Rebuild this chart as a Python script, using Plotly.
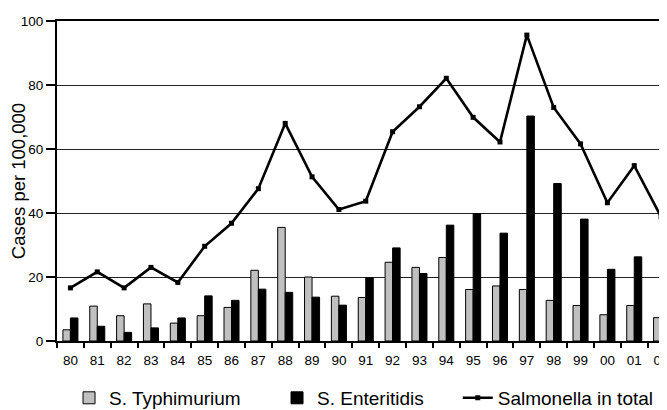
import plotly.graph_objects as go

years = ["80", "81", "82", "83", "84", "85", "86", "87", "88", "89", "90", "91",
         "92", "93", "94", "95", "96", "97", "98", "99", "00", "01", "02"]
typhimurium = [3.5, 10.9, 7.9, 11.6, 5.6, 7.9, 10.5, 22.1, 35.5, 20.0, 14.0, 13.6,
               24.6, 23.0, 26.1, 16.1, 17.2, 16.1, 12.7, 11.1, 8.2, 11.1, 7.3]
enteritidis = [7.2, 4.6, 2.7, 4.1, 7.2, 14.1, 12.7, 16.2, 15.2, 13.7, 11.2, 19.7,
               29.1, 21.1, 36.2, 39.8, 33.7, 70.3, 49.2, 38.1, 22.4, 26.3, 20.8]
total = [16.6, 21.6, 16.6, 23.0, 18.3, 29.6, 36.8, 47.6, 68.0, 51.3, 41.1, 43.7,
         65.4, 73.2, 82.1, 69.9, 62.2, 95.6, 73.0, 61.6, 43.2, 54.8, 38.8]
y_ticks = [0, 20, 40, 60, 80, 100]

FONT = "Liberation Sans, Arial, sans-serif"

fig = go.Figure()
fig.add_trace(go.Bar(
    x=years, y=typhimurium, name="S. Typhimurium",
    marker=dict(color="#c0c0c0", line=dict(color="black", width=1)),
    legend="legend", showlegend=True,
))
fig.add_trace(go.Bar(
    x=years, y=enteritidis, name="S. Enteritidis",
    marker=dict(color="black", line=dict(color="black", width=1)),
    legend="legend2", showlegend=True,
))
fig.add_trace(go.Scatter(
    x=years, y=total, name="Salmonella in total", mode="lines+markers",
    line=dict(color="black", width=2.6),
    marker=dict(symbol="square", size=5, color="black"),
    legend="legend3", showlegend=True,
))

leg_common = dict(orientation="h", yanchor="middle", y=-0.178, xanchor="left",
                  font=dict(family=FONT, size=19, color="black"),
                  bgcolor="rgba(0,0,0,0)", borderwidth=0)

# the page body has an 8px margin, so the figure is sized/offset to fit the window
fig.update_layout(
    width=659, height=402,
    margin=dict(l=49, r=0, t=13, b=69, autoexpand=False),
    paper_bgcolor="white", plot_bgcolor="white",
    showlegend=True,
    barmode="group", bargap=0.44, bargroupgap=0,
    font=dict(family=FONT, color="black"),
    legend=dict(x=0.0197, **leg_common),
    legend2=dict(x=0.3607, **leg_common),
    legend3=dict(x=0.657, **leg_common),
    xaxis=dict(
        type="category", range=[-0.5, 22.22], automargin=False,
        tickson="boundaries", ticks="outside", ticklen=5, tickwidth=1.5, tickcolor="black",
        showline=True, linecolor="black", linewidth=2, mirror=True,
        ticklabelstandoff=6,
        showgrid=False, tickfont=dict(family=FONT, size=13.5, color="black"),
    ),
    yaxis=dict(
        range=[0, 100], tickvals=y_ticks, automargin=False,
        ticks="outside", ticklen=9, tickwidth=1.5, tickcolor="black",
        showline=True, linecolor="black", linewidth=2,
        showgrid=True, gridcolor="#222222", gridwidth=1.2,
        zeroline=False,
        tickfont=dict(family=FONT, size=13.5, color="black"),
        title=dict(text="Cases per 100,000", font=dict(family=FONT, size=18.5, color="black"),
                   standoff=1),
    ),
)

fig.write_html("out.html")
